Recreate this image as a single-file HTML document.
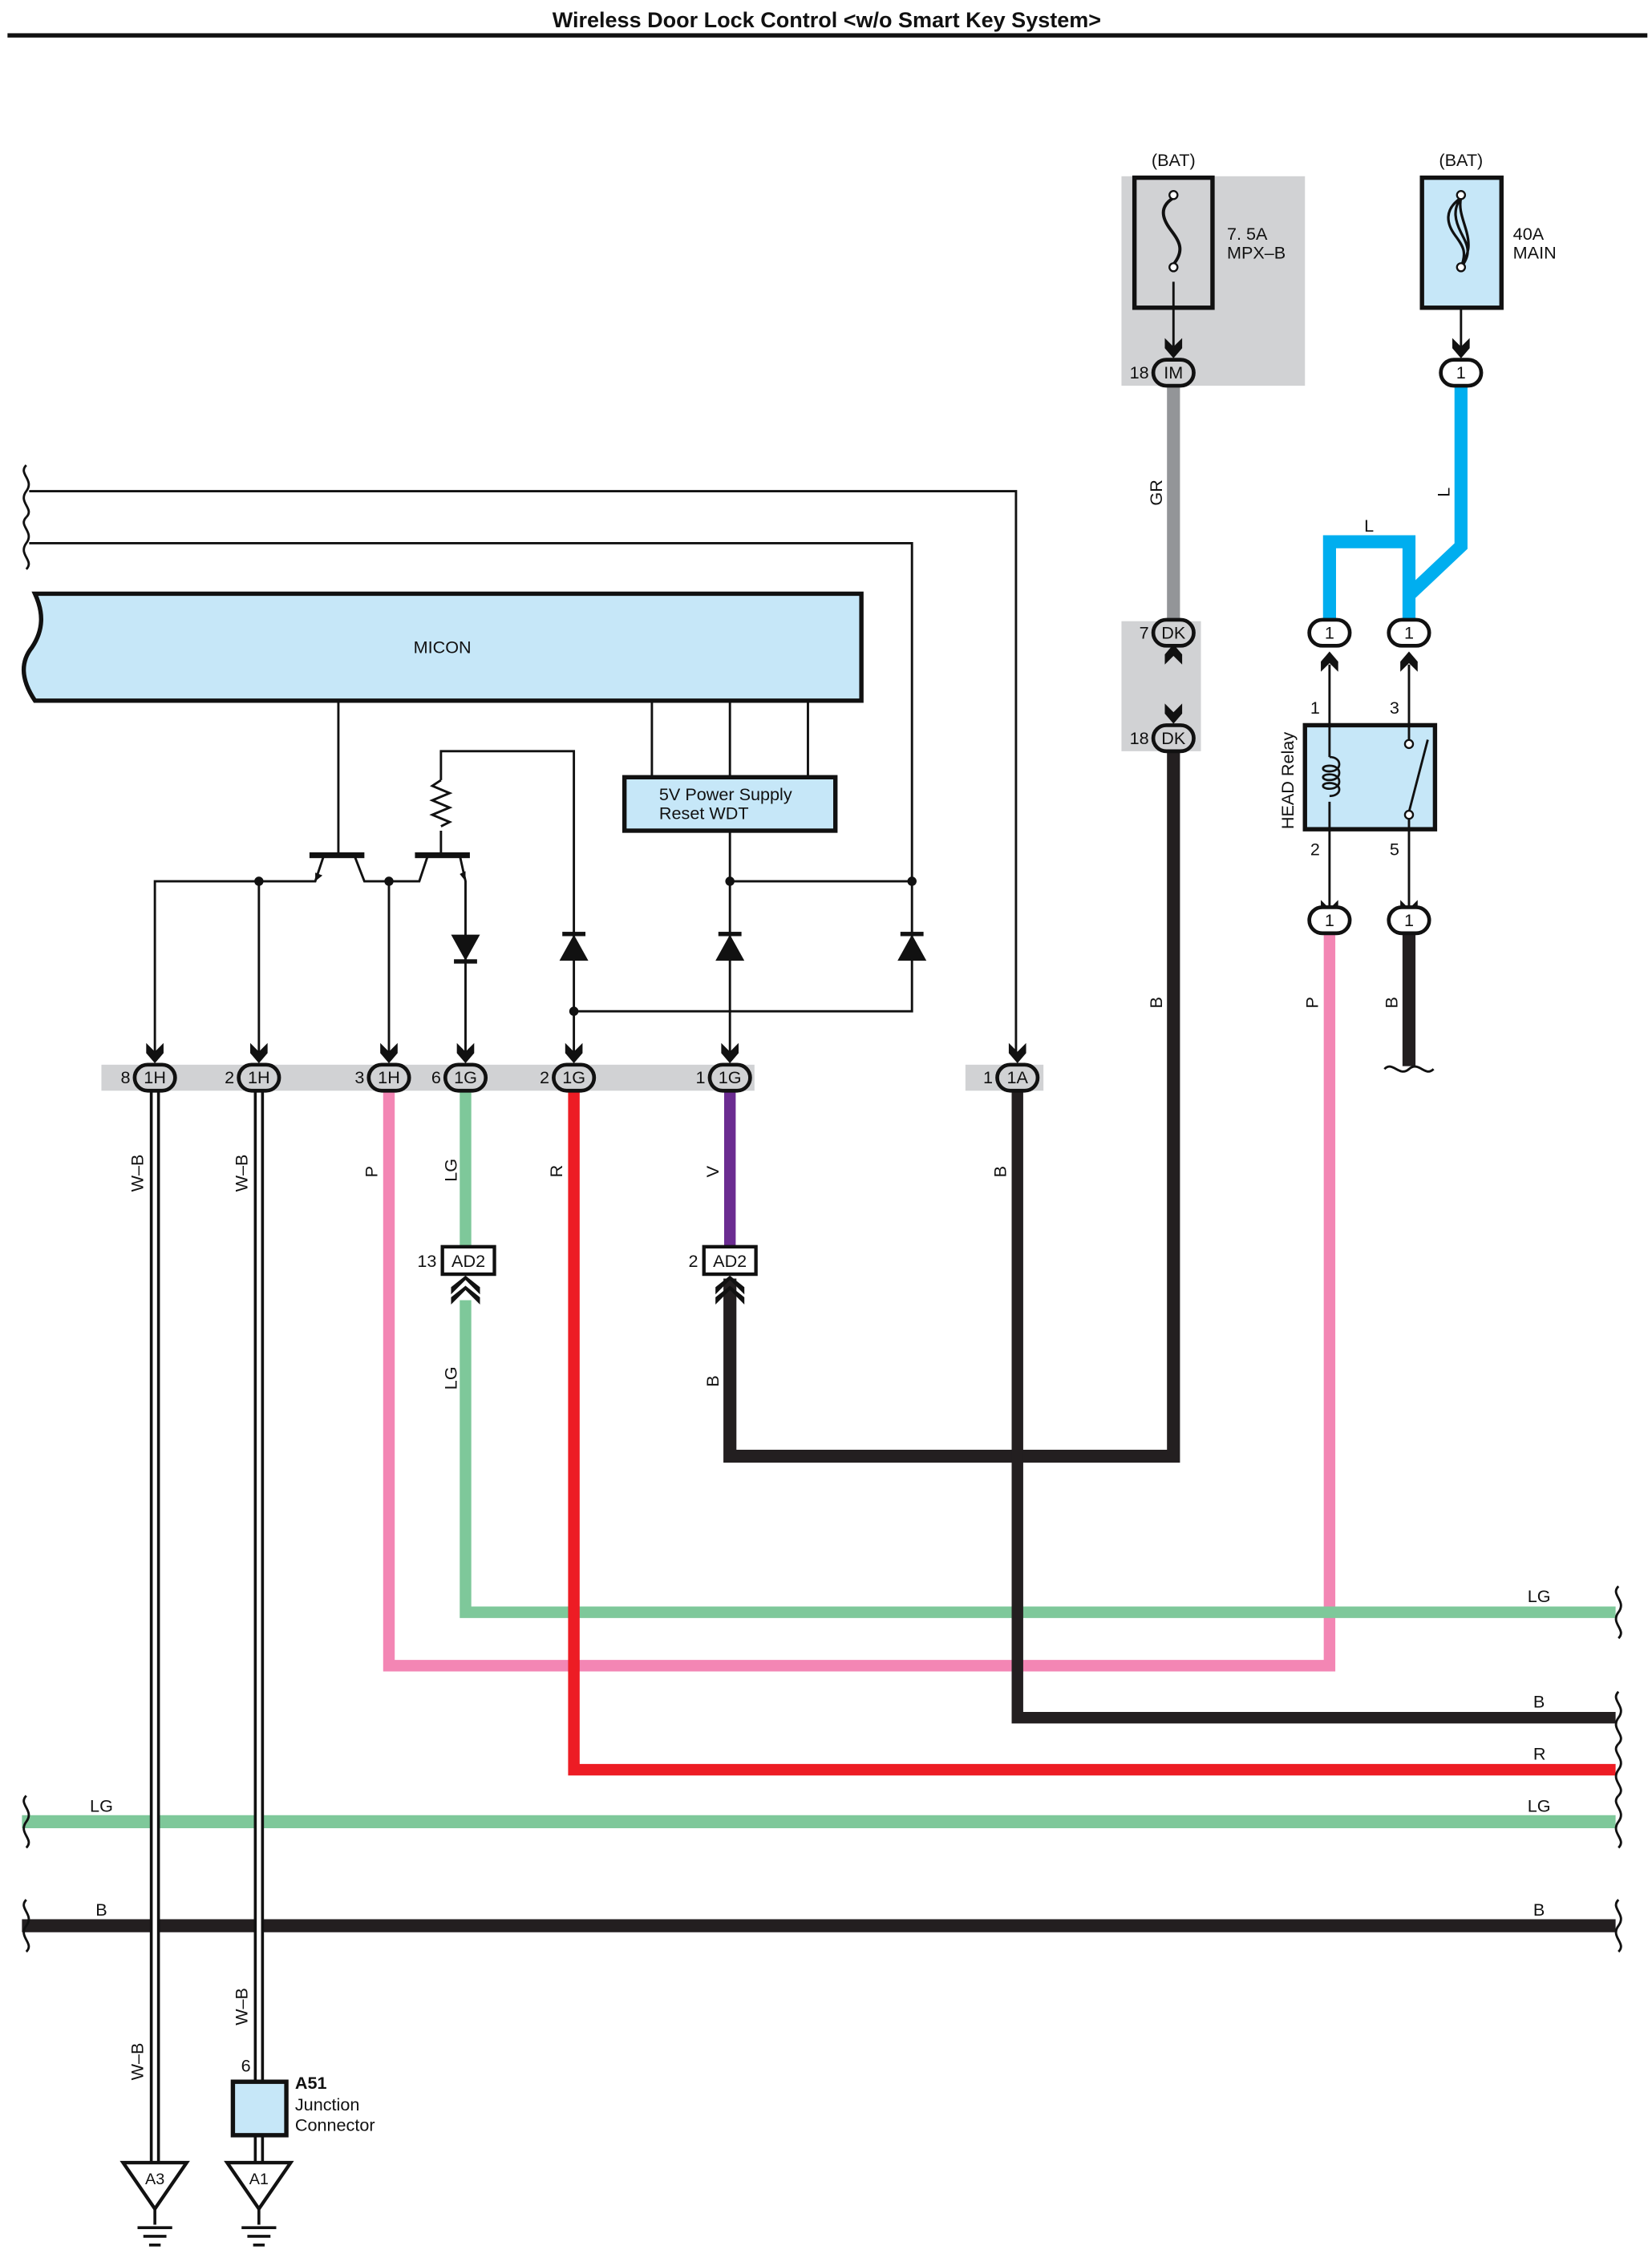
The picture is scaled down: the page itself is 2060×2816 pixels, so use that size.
<!DOCTYPE html>
<html><head><meta charset="utf-8"><style>html,body{margin:0;padding:0;background:#fff}svg{display:block}text{font-family:"Liberation Sans",sans-serif;fill:#111}</style></head><body>
<svg width="2060" height="2816" viewBox="0 0 1143 1563" xmlns="http://www.w3.org/2000/svg">
<text x="572" y="19" font-size="15" font-weight="bold" text-anchor="middle">Wireless Door Lock Control &lt;w/o Smart Key System&gt;</text>
<rect x="5" y="23" width="1135" height="3" fill="#111"/>

<rect x="776" y="122" width="127" height="145" fill="#d1d2d4"/>
<rect x="776" y="430" width="55" height="90" fill="#d1d2d4"/>
<rect x="70" y="737" width="452" height="18" fill="#d1d2d4"/>
<rect x="668" y="737" width="54" height="18" fill="#d1d2d4"/>

<g fill="none" stroke-linejoin="miter">
<path d="M812 267V430" stroke="#939598" stroke-width="9"/>
<path d="M812 520V1008H505V885" stroke="#231f20" stroke-width="9"/>
<path d="M1011 268V378L975 412V430M975 412V375H920V430" stroke="#00aeef" stroke-width="9"/>
<path d="M975 646V738" stroke="#231f20" stroke-width="9"/>
<path d="M269 755V1153H920V646" stroke="#f386b4" stroke-width="8"/>
<path d="M322 755V863M322 900V1116H1118" stroke="#7ec89a" stroke-width="8"/>
<path d="M397 755V1225H1118" stroke="#ed1c24" stroke-width="8"/>
<path d="M505 755V863" stroke="#6b2c91" stroke-width="8"/>
<path d="M704 755V1189H1118" stroke="#231f20" stroke-width="8"/>
<path d="M15 1261H1118" stroke="#7ec89a" stroke-width="9"/>
<path d="M15 1333H1118" stroke="#231f20" stroke-width="9"/>
<path d="M107 755V1500M179 755V1441M179 1478V1500" stroke="#111" stroke-width="7"/>
<path d="M107 755V1500M179 755V1441M179 1478V1500" stroke="#fff" stroke-width="3"/>
</g>

<g fill="none" stroke="#111" stroke-width="1.6">
<path d="M20 340H703V733M20 376H631V700H397"/>
<path d="M234 485V592M451 485V538M505 485V538M559 485V538"/>
<path d="M505 575V733M505 610H631"/>
<path d="M397 733V520H305V540M305 575V592"/>
<path d="M305 540l-6 4 12 5-12 5 12 5-12 5 12 5-6 3"/>
<path d="M107 733V610H218L224 592M245 592L252 610H290L296 592M318 592L322 610V733M179 610V733M269 610V733"/>
<path d="M812 195V240M1011 195V240"/>
<path d="M920 460V640M975 460V640"/>
</g>
<rect x="214" y="590" width="38" height="4" fill="#111"/>
<rect x="287" y="590" width="38" height="4" fill="#111"/>
<path d="M218 604l5 2-5 4z M322 603l-4 2 4 5z" fill="#111"/>
<g fill="#111"><circle cx="179" cy="610" r="3.2"/><circle cx="269" cy="610" r="3.2"/><circle cx="505" cy="610" r="3.2"/><circle cx="631" cy="610" r="3.2"/><circle cx="397" cy="700" r="3.2"/></g>
<g fill="#111">
<path d="M312 647h20l-10 18z"/><rect x="314" y="664" width="16" height="3"/>
<path d="M387 665h20l-10-18z"/><rect x="389" y="645" width="16" height="3"/>
<path d="M495 665h20l-10-18z"/><rect x="497" y="645" width="16" height="3"/>
<path d="M621 665h20l-10-18z"/><rect x="623" y="645" width="16" height="3"/>
</g>

<path d="M24 411H596V485H24C14 470 14 458 22 448C30 436 30 424 24 411Z" fill="#c6e7f8" stroke="#111" stroke-width="3"/>
<text x="306" y="452" font-size="12" text-anchor="middle">MICON</text>
<rect x="432" y="538" width="146" height="37" fill="#c6e7f8" stroke="#111" stroke-width="3"/>
<text x="456" y="554" font-size="12">5V Power Supply</text>
<text x="456" y="567" font-size="12">Reset WDT</text>

<g fill="none" stroke="#111" stroke-width="1.6">
<path d="M18 322c-6 6 6 10 0 18c-6 8 6 12 0 18"/>
<path d="M18 358c-6 6 6 10 0 18c-6 8 6 12 0 18"/>
<path d="M18 1243c-6 6 6 10 0 18c-6 8 6 12 0 18"/>
<path d="M18 1315c-6 6 6 10 0 18c-6 8 6 12 0 18"/>
<path d="M1120 1098c-6 6 6 10 0 18c-6 8 6 12 0 18"/>
<path d="M1120 1171c-6 6 6 10 0 18c-6 8 6 12 0 18"/>
<path d="M1120 1207c-6 6 6 10 0 18c-6 8 6 12 0 18"/>
<path d="M1120 1243c-6 6 6 10 0 18c-6 8 6 12 0 18"/>
<path d="M1120 1315c-6 6 6 10 0 18c-6 8 6 12 0 18"/>
<path d="M958 740c6-6 10 6 17 0c7-6 11 6 17 0"/>
</g>

<g fill="#111">
<path d="M101 722l6 6 6-6v7l-6 7-6-7z"/>
<path d="M173 722l6 6 6-6v7l-6 7-6-7z"/>
<path d="M263 722l6 6 6-6v7l-6 7-6-7z"/>
<path d="M316 722l6 6 6-6v7l-6 7-6-7z"/>
<path d="M391 722l6 6 6-6v7l-6 7-6-7z"/>
<path d="M499 722l6 6 6-6v7l-6 7-6-7z"/>
<path d="M698 722l6 6 6-6v7l-6 7-6-7z"/>
<path d="M806 234l6 6 6-6v7l-6 7-6-7z"/>
<path d="M1005 234l6 6 6-6v7l-6 7-6-7z"/>
<path d="M806 487l6 6 6-6v7l-6 7-6-7z"/>
<path d="M806 460l6-6 6 6v-7l-6-7-6 7z"/>
<path d="M914 465l6-6 6 6v-7l-6-7-6 7z"/>
<path d="M969 465l6-6 6 6v-7l-6-7-6 7z"/>
<path d="M914 623l6 6 6-6v7l-6 7-6-7z"/>
<path d="M969 623l6 6 6-6v7l-6 7-6-7z"/>
</g>

<g stroke="#111" stroke-width="2.6" fill="#d1d2d4">
<rect x="93" y="737" width="28" height="18" rx="9"/>
<rect x="165" y="737" width="28" height="18" rx="9"/>
<rect x="255" y="737" width="28" height="18" rx="9"/>
<rect x="308" y="737" width="28" height="18" rx="9"/>
<rect x="383" y="737" width="28" height="18" rx="9"/>
<rect x="491" y="737" width="28" height="18" rx="9"/>
<rect x="690" y="737" width="28" height="18" rx="9"/>
<rect x="798" y="249" width="28" height="18" rx="9"/>
<rect x="798" y="429" width="28" height="18" rx="9"/>
<rect x="798" y="502" width="28" height="18" rx="9"/>
</g>
<g stroke="#111" stroke-width="2.6" fill="#fff">
<rect x="997" y="249" width="28" height="18" rx="9"/>
<rect x="906" y="429" width="28" height="18" rx="9"/>
<rect x="961" y="429" width="28" height="18" rx="9"/>
<rect x="906" y="628" width="28" height="18" rx="9"/>
<rect x="961" y="628" width="28" height="18" rx="9"/>
</g>
<g font-size="12" text-anchor="middle">
<text x="107" y="750">1H</text><text x="179" y="750">1H</text><text x="269" y="750">1H</text>
<text x="322" y="750">1G</text><text x="397" y="750">1G</text><text x="505" y="750">1G</text><text x="704" y="750">1A</text>
<text x="812" y="262">IM</text><text x="812" y="442">DK</text><text x="812" y="515">DK</text>
<text x="1011" y="262">1</text><text x="920" y="442">1</text><text x="975" y="442">1</text><text x="920" y="641">1</text><text x="975" y="641">1</text>
</g>
<g font-size="12" text-anchor="end">
<text x="90" y="750">8</text><text x="162" y="750">2</text><text x="252" y="750">3</text><text x="305" y="750">6</text>
<text x="380" y="750">2</text><text x="488" y="750">1</text><text x="687" y="750">1</text>
<text x="795" y="262">18</text><text x="795" y="442">7</text><text x="795" y="515">18</text>
<text x="302" y="877">13</text><text x="483" y="877">2</text>
</g>

<rect x="306" y="863" width="36" height="19" fill="#fff" stroke="#111" stroke-width="2.4"/>
<rect x="487" y="863" width="36" height="19" fill="#fff" stroke="#111" stroke-width="2.4"/>
<text x="324" y="877" font-size="12" text-anchor="middle">AD2</text>
<text x="505" y="877" font-size="12" text-anchor="middle">AD2</text>
<path d="M312 896l10-10 10 10v-5l-10-8-10 8z M312 903l10-10 10 10v-5l-10-8-10 8z" fill="#111"/>
<path d="M495 896l10-10 10 10v-5l-10-8-10 8z M495 903l10-10 10 10v-5l-10-8-10 8z" fill="#111"/>

<rect x="785" y="123" width="54" height="90" fill="none" stroke="#111" stroke-width="3"/>
<path d="M812 137c-10 6 -8 14 -2 22c6 8 10 14 2 24" fill="none" stroke="#111" stroke-width="2.2"/>
<circle cx="812" cy="135" r="2.8" fill="#fff" stroke="#111" stroke-width="1.3"/><circle cx="812" cy="185" r="2.8" fill="#fff" stroke="#111" stroke-width="1.3"/>
<text x="812" y="115" font-size="12" text-anchor="middle">(BAT)</text>
<text x="849" y="166" font-size="12">7. 5A</text><text x="849" y="179" font-size="12">MPX–B</text>
<rect x="984" y="123" width="55" height="90" fill="#c6e7f8" stroke="#111" stroke-width="3"/>
<path d="M1011 137c-12 8 -10 18 -4 26c6 8 8 12 4 22M1011 137c-6 8 -4 16 0 24c4 8 8 14 0 24M1011 137c-2 8 2 16 4 24c2 8 2 14 -4 24" fill="none" stroke="#111" stroke-width="1.8"/>
<circle cx="1011" cy="135" r="2.8" fill="#fff" stroke="#111" stroke-width="1.3"/><circle cx="1011" cy="185" r="2.8" fill="#fff" stroke="#111" stroke-width="1.3"/>
<text x="1011" y="115" font-size="12" text-anchor="middle">(BAT)</text>
<text x="1047" y="166" font-size="12">40A</text><text x="1047" y="179" font-size="12">MAIN</text>

<rect x="903" y="502" width="90" height="72" fill="#c6e7f8" stroke="#111" stroke-width="3"/>
<path d="M920 502V524M920 555V574" stroke="#111" stroke-width="1.6"/>
<path d="M920 524c9 0 9 10 0 10c-6 0-6-4 0-4c9 0 9 10 0 10c-6 0-6-4 0-4c9 0 9 10 0 10c-6 0-6-4 0-4c9 0 9 9 0 9" fill="none" stroke="#111" stroke-width="1.5"/>
<path d="M975 502V512M975 567V574M975 562L988 512" stroke="#111" stroke-width="1.6"/>
<circle cx="975" cy="515" r="2.8" fill="#fff" stroke="#111" stroke-width="1.3"/>
<circle cx="975" cy="564" r="2.8" fill="#fff" stroke="#111" stroke-width="1.3"/>
<text x="910" y="494" font-size="12" text-anchor="middle">1</text><text x="965" y="494" font-size="12" text-anchor="middle">3</text>
<text x="910" y="592" font-size="12" text-anchor="middle">2</text><text x="965" y="592" font-size="12" text-anchor="middle">5</text>
<text transform="translate(895,574) rotate(-90)" font-size="12">HEAD Relay</text>

<rect x="161" y="1441" width="37" height="37" fill="#c6e7f8" stroke="#111" stroke-width="3"/>
<text x="170" y="1434" font-size="12" text-anchor="middle">6</text>
<text x="204" y="1446" font-size="12" font-weight="bold">A51</text>
<text x="204" y="1461" font-size="12">Junction</text>
<text x="204" y="1475" font-size="12">Connector</text>

<g fill="#fff" stroke="#111" stroke-width="2.4">
<path d="M85 1497H129L107 1529Z"/><path d="M157 1497H201L179 1529Z"/>
</g>
<text x="107" y="1512" font-size="11" text-anchor="middle">A3</text>
<text x="179" y="1512" font-size="11" text-anchor="middle">A1</text>
<g stroke="#111" stroke-width="2">
<path d="M107 1529V1540M95 1542H119M99 1548H115M103 1554H111"/>
<path d="M179 1529V1540M167 1542H191M171 1548H187M175 1554H183"/>
</g>

<g font-size="12">
<text transform="translate(99,825) rotate(-90)">W–B</text>
<text transform="translate(171,825) rotate(-90)">W–B</text>
<text transform="translate(261,815) rotate(-90)">P</text>
<text transform="translate(316,818) rotate(-90)">LG</text>
<text transform="translate(389,815) rotate(-90)">R</text>
<text transform="translate(497,815) rotate(-90)">V</text>
<text transform="translate(696,815) rotate(-90)">B</text>
<text transform="translate(316,962) rotate(-90)">LG</text>
<text transform="translate(497,960) rotate(-90)">B</text>
<text transform="translate(804,350) rotate(-90)">GR</text>
<text transform="translate(804,698) rotate(-90)">B</text>
<text transform="translate(912,698) rotate(-90)">P</text>
<text transform="translate(967,698) rotate(-90)">B</text>
<text transform="translate(1003,344) rotate(-90)">L</text>
<text transform="translate(99,1440) rotate(-90)">W–B</text>
<text transform="translate(171,1402) rotate(-90)">W–B</text>
<text x="944" y="368">L</text>
<text x="1057" y="1109">LG</text><text x="1061" y="1182">B</text><text x="1061" y="1218">R</text>
<text x="1057" y="1254">LG</text><text x="1061" y="1326">B</text>
<text x="62" y="1254">LG</text><text x="66" y="1326">B</text>
</g>
</svg>
</body></html>
